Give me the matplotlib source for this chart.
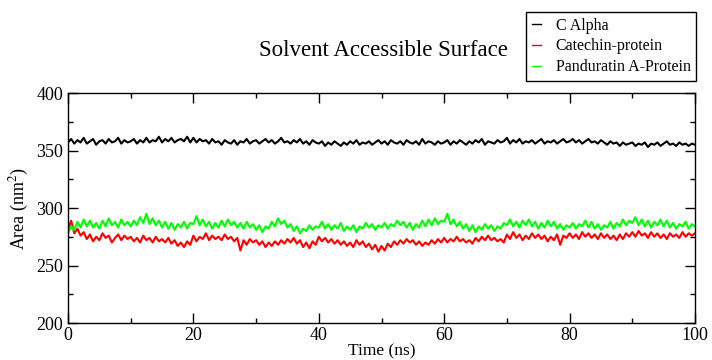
import numpy as np
import matplotlib
matplotlib.use("Agg")
import matplotlib.pyplot as plt
from matplotlib.ticker import MultipleLocator

plt.rcParams['font.family'] = ['Liberation Serif', 'DejaVu Serif']
plt.rcParams['mathtext.fontset'] = 'stix'

series_labels = ["C Alpha", "Catechin-protein", "Panduratin A-Protein"]
series_colors = ["#000000", "#ff0000", "#00ff00"]

time_ns = np.linspace(0, 100, 201)

c_alpha = [
    357,360,356,359,357,361,356,358,360,355,358,359,356,360,357,358,361,356,359,357,
    358,360,356,359,357,361,357,359,358,362,357,360,358,361,357,359,360,358,362,357,
    361,357,360,358,359,356,360,357,358,355,359,357,356,359,355,358,357,360,356,358,
    359,356,358,360,357,359,356,358,361,357,358,356,359,357,360,356,358,355,359,357,
    356,358,354,357,355,358,356,354,357,355,358,356,359,355,357,356,358,355,357,359,
    356,358,355,359,357,356,358,355,359,357,356,358,355,360,356,358,357,355,358,356,
    357,359,355,358,356,359,357,355,358,356,359,357,360,355,358,357,356,359,357,358,
    361,356,359,357,360,356,358,357,359,356,358,360,356,358,357,359,356,358,360,357,
    358,360,357,359,356,358,360,357,358,356,359,357,355,358,356,357,354,357,355,356,
    357,354,356,355,357,353,356,355,357,354,356,358,355,356,354,357,355,356,354,356,355,
]

catechin = [
    281,289,278,282,276,279,273,277,271,275,272,278,274,276,270,274,277,272,276,273,
    275,271,274,270,276,272,274,270,275,271,273,270,274,269,272,267,270,266,271,268,
    276,271,275,273,278,272,276,273,275,272,277,273,275,271,274,263,272,268,273,270,
    272,268,271,266,270,267,271,268,272,269,273,270,274,269,272,266,270,265,271,268,
    275,271,274,270,273,269,272,268,271,267,270,266,272,268,271,266,269,264,268,262,
    267,263,269,266,271,268,272,269,273,270,272,268,271,267,270,268,272,269,273,270,
    274,270,273,271,275,271,273,270,272,269,274,271,275,272,276,272,274,271,273,270,
    277,273,279,274,277,272,276,273,278,274,277,273,276,271,275,272,277,268,276,274,
    278,274,277,273,279,275,278,274,277,273,278,274,277,273,276,272,277,273,278,275,
    279,275,280,276,278,274,279,275,278,274,277,273,278,275,277,274,279,275,278,276,278,
]

panduratin = [
    278,284,281,288,283,290,284,289,283,287,282,289,284,291,285,288,283,290,285,288,
    284,289,285,292,287,295,286,291,285,289,283,288,282,287,281,286,283,288,282,287,
    286,293,285,290,284,288,282,287,283,289,284,290,285,288,283,287,282,288,283,286,
    281,285,279,284,282,288,284,291,286,289,283,286,280,284,278,282,280,285,281,284,
    283,288,282,286,281,285,282,287,280,284,281,285,279,284,282,287,283,286,281,285,
    283,287,282,286,284,289,285,288,283,287,281,286,283,289,284,290,285,291,286,289,
    288,295,286,290,284,288,282,286,280,285,279,284,281,286,282,285,280,284,282,287,
    285,290,284,288,283,289,285,290,284,288,282,287,283,289,284,288,282,286,281,285,
    283,287,282,286,284,289,283,288,282,286,281,285,283,288,282,287,284,290,285,289,
    287,292,285,290,284,289,283,288,285,290,284,289,283,287,282,286,284,288,282,286,284,
]

fig = plt.figure(figsize=(7.12, 3.6), dpi=100)
ax = fig.add_axes([68/712, 1-323/360, (695-68)/712, (323-93)/360])

lines = []
for data, col, lab in zip([c_alpha, catechin, panduratin], series_colors, series_labels):
    ln, = ax.plot(time_ns, data, color=col, lw=1.5, label=lab)
    lines.append(ln)

ax.set_xlim(0, 100)
ax.set_ylim(200, 400)
ax.xaxis.set_major_locator(MultipleLocator(20))
ax.xaxis.set_minor_locator(MultipleLocator(10))
ax.yaxis.set_major_locator(MultipleLocator(50))
ax.yaxis.set_minor_locator(MultipleLocator(25))
ax.tick_params(which='both', direction='in', top=True, right=True, labelsize=13, width=1.0)
ax.tick_params(axis='x', which='major', pad=3)
ax.tick_params(which='major', length=7)
ax.tick_params(which='minor', length=3.5)
for s in ax.spines.values():
    s.set_linewidth(1.0)

fig.text(382/712, 1-351/360, "Time (ns)", fontsize=12.5, ha='center', va='center')
ax.set_ylabel(r"Area (nm$^{2}$)", fontsize=13, labelpad=4)

fig.text(383/712, 1-50/360, "Solvent Accessible Surface", fontsize=16.5, ha='center', va='center')

handles = [plt.Line2D([], [], color=c, lw=1.0) for c in series_colors]
leg = fig.legend(handles=handles, labels=series_labels, loc='upper left',
                 bbox_to_anchor=(526/712, 1-12/360), fontsize=11.5,
                 frameon=True, fancybox=False, edgecolor='black', framealpha=1,
                 handlelength=0.6, handletextpad=0.9, borderpad=0.35, labelspacing=0.3,
                 borderaxespad=0)
leg.get_frame().set_linewidth(1.0)

fig.savefig("out.png", dpi=100)
